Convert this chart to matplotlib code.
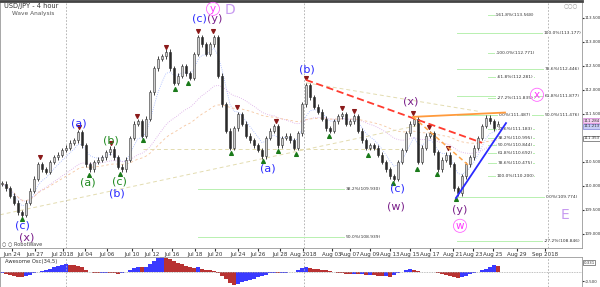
import numpy as np
import pandas as pd
import matplotlib
matplotlib.use("Agg")
from matplotlib import pyplot as plt

# USD/JPY 4h closes, one value per ~4px column
closes = [
    110.05, 109.95, 109.8, 109.65, 109.45, 109.4, 109.65, 109.9, 110.15, 110.45,
    110.35, 110.3, 110.5, 110.6, 110.65, 110.75, 110.8, 110.9, 110.95, 111.12,
    110.85, 110.45, 110.35, 110.5, 110.55, 110.6, 110.7, 110.78, 110.6, 110.4,
    110.35, 110.55, 111.0, 111.3, 111.35, 111.05, 111.4, 111.95, 112.45, 112.65,
    112.7, 112.8, 112.45, 112.15, 112.3, 112.5, 112.35, 112.25, 112.75, 113.1,
    112.95, 112.75, 112.95, 113.1, 112.3, 111.7, 111.15, 110.8, 111.2, 111.5,
    111.3, 111.05, 110.95, 110.85, 110.75, 110.62, 111.0, 111.15, 111.25, 110.85,
    111.0, 111.05, 110.95, 110.8, 111.1, 111.7, 112.1, 111.85, 111.65, 111.55,
    111.4, 111.2, 111.15, 111.35, 111.45, 111.5, 111.3, 111.35, 111.45, 111.15,
    110.95, 110.8, 110.85, 110.8, 110.65, 110.5, 110.35, 110.2, 110.15, 110.5,
    110.75, 111.1, 111.3, 111.4, 110.5, 110.8, 111.05, 111.1, 110.7, 110.35,
    110.55, 110.65, 110.45, 109.95, 109.85, 110.2, 110.45, 110.6, 110.8, 111.0,
    111.25, 111.42, 111.35, 111.2, 111.3,
]

# Awesome Oscillator (34,5)
ao = [
    -0.03, -0.07, -0.08, -0.12, -0.15, -0.17, -0.13, -0.08, -0.03, 0.02,
    0.05, 0.08, 0.13, 0.18, 0.23, 0.27, 0.28, 0.27, 0.25, 0.23,
    0.17, 0.08, 0.02, -0.02, -0.03, -0.02, -0.01, -0.02, -0.03, -0.05,
    -0.03, 0.02, 0.08, 0.15, 0.18, 0.17, 0.20, 0.28, 0.40, 0.48,
    0.52, 0.51, 0.47, 0.40, 0.33, 0.28, 0.23, 0.18, 0.15, 0.17,
    0.13, 0.10, 0.07, 0.05, -0.03, -0.12, -0.23, -0.37, -0.42, -0.40,
    -0.33, -0.30, -0.27, -0.22, -0.17, -0.13, -0.08, -0.03, -0.02, -0.03,
    -0.02, -0.01, 0.02, 0.03, 0.08, 0.15, 0.17, 0.16, 0.13, 0.12,
    0.10, 0.08, 0.05, 0.02, -0.02, -0.03, -0.04, -0.05, -0.05, -0.07,
    -0.07, -0.08, -0.08, -0.10, -0.12, -0.13, -0.13, -0.15, -0.10, -0.03,
    0.03, 0.08, 0.12, 0.10, 0.05, 0.02, 0.02, 0.03, 0.02, -0.02,
    -0.05, -0.08, -0.12, -0.17, -0.18, -0.15, -0.12, -0.07, -0.03, 0.02,
    0.07, 0.13, 0.20, 0.25, 0.23,
]

date_labels = ["Jun 24", "Jun 27", "Jul 2018", "Jul 04", "Jul 06", "Jul 10", "Jul 12",
               "Jul 16", "Jul 18", "Jul 20", "Jul 24", "Jul 26", "Jul 28", "Aug 2018",
               "Aug 03", "Aug 07", "Aug 09", "Aug 13", "Aug 15", "Aug 17", "Aug 21",
               "Aug 23", "Aug 25", "Aug 29", "Sep 2018"]
date_pos = [12, 35, 63, 85, 107, 132, 152, 172, 195, 215, 238, 258, 280, 303,
            332, 350, 370, 390, 410, 430, 453, 473, 493, 517, 545]
month_sep = [66, 304, 548]

# swing markers
top_x = [40, 79, 111, 137, 166, 198, 213, 237, 276, 306, 342, 354, 413, 429, 448]
top_p = [110.56, 111.19, 110.85, 111.42, 112.85, 113.19, 113.18, 111.6, 111.31,
         112.21, 111.58, 111.52, 111.48, 111.19, 110.75]
bot_x = [22, 89, 120, 143, 175, 188, 231, 263, 278, 296, 329, 368, 393, 417, 437, 456]
bot_p = [109.35, 110.27, 110.29, 111.0, 112.06, 112.19, 110.73, 110.56, 110.77,
         110.71, 111.08, 110.69, 110.10, 110.4, 110.29, 109.774]

# wave labels: text, x, price, colour
BLUE, PURP, GRN = "#2b2bff", "#7a1f8a", "#1f8a1f"
waves = [
    ("(c)", 22, 109.17, BLUE), ("(x)", 27, 108.92, PURP),
    ("(a)", 79, 111.31, BLUE), ("(a)", 88, 110.08, GRN),
    ("(b)", 111, 110.94, GRN), ("(c)", 119, 110.10, GRN),
    ("(b)", 117, 109.85, BLUE), ("(c)", 199, 113.48, BLUE),
    ("(y)", 215, 113.48, PURP), ("(b)", 307, 112.42, BLUE),
    ("(a)", 268, 110.37, BLUE), ("(x)", 411, 111.77, PURP),
    ("(c)", 397, 109.94, BLUE), ("(w)", 396, 109.58, PURP),
    ("(y)", 460, 109.50, PURP),
]
circled = [("y", 213, 113.69), ("x", 537, 111.90), ("w", 460, 109.17)]
big_letters = [("D", 230, 113.67), ("E", 565, 109.40)]

# fibonacci tools
fib_a_pct = ["0.0%", "23.6%", "38.2%", "50.0%", "61.8%", "78.6%", "100.0%",
             "-27.2%", "-61.8%", "-100.0%", "-161.8%"]
fib_a_val = [111.487, 111.183, 110.995, 110.844, 110.692, 110.475, 110.200,
             111.835, 112.281, 112.771, 113.568]
fib_c_pct = ["100.0%", "78.6%", "61.8%", "50.0%", "0.0%", "-27.2%"]
fib_c_val = [113.177, 112.446, 111.877, 111.476, 109.774, 108.846]
fib_d_pct = ["38.2%", "50.0%"]
fib_d_val = [109.930, 108.939]

# trend lines (x0, p0, x1, p1)
red_line = [306, 112.21, 482, 110.90]
orange_line = [413, 111.44, 505, 111.53]
orange_dash = [413, 111.44, 468, 110.44]
blue_line = [456, 109.75, 506, 111.31]
tan_lines = [[0, 109.40, 420, 111.27], [143, 110.77, 400, 110.77], [306, 112.15, 480, 111.55]]

ytick_vals = [109.0, 109.5, 110.0, 110.5, 111.5, 112.0, 112.5, 113.0, 113.5]

# ---- figure ----
fig = plt.figure(figsize=(6, 2.87), dpi=100)
ax = fig.add_axes([0.0, 1 - 248 / 287, 582 / 600, 247 / 287])
osc = fig.add_axes([0.0, 0.0, 582 / 600, 30 / 287])

x = np.arange(len(closes)) * 4 + 2
c = np.array(closes)
o = np.r_[c[0], c[:-1]]
hi = np.maximum(o, c) + 0.05
lo = np.minimum(o, c) - 0.05

# moving averages
s = pd.Series(c)
ax.plot(x, s.ewm(span=6).mean(), color="#9fb4ff", lw=0.6, ls=":")
ax.plot(x, s.ewm(span=30).mean(), color="#d9a6e6", lw=0.6, ls=":")
ax.plot(x, s.ewm(span=60).mean(), color="#f5c6a0", lw=0.6, ls=(0, (3, 3)))

for ln in tan_lines:
    ax.plot([ln[0], ln[2]], [ln[1], ln[3]], color="#e3dcb0", lw=0.7, ls=(0, (4, 3)))

# vertical month separators
for m in month_sep:
    ax.axvline(m, color="#aaaaaa", lw=0.6, ls=(0, (2, 2)))
    osc.axvline(m, color="#aaaaaa", lw=0.6, ls=(0, (2, 2)))

# candles
ax.vlines(x, lo, hi, color="#222222", lw=0.6, zorder=3)
up = c >= o
body = np.where(np.abs(c - o) < 0.015, 0.015, c - o)
ax.bar(x[up], body[up], bottom=o[up], width=2.4, color="#d0d0d0",
       edgecolor="#333333", lw=0.4, zorder=4)
ax.bar(x[~up], body[~up], bottom=o[~up], width=2.4, color="#2a2a2a",
       edgecolor="#2a2a2a", lw=0.4, zorder=4)

ax.scatter(top_x, np.array(top_p) + 0.04, marker="v", s=7, color="#8b1a1a", zorder=5)
ax.scatter(bot_x, np.array(bot_p) - 0.04, marker="^", s=7, color="#1a7a1a", zorder=5)

# fib lines
fib_box = dict(boxstyle="square,pad=0.1", fc="white", ec="none")
for p, v in zip(fib_a_pct, fib_a_val):
    ax.plot([488, 534], [v, v], color="#b8f0b0", lw=0.7, zorder=2)
    ax.text(515, v, f"{p}({v:.3f})", fontsize=3.2, ha="center", va="center",
            color="#333333", zorder=6, bbox=fib_box)
for p, v in zip(fib_c_pct, fib_c_val):
    ax.plot([457, 578], [v, v], color="#b8f0b0", lw=0.7, zorder=2)
    ax.text(562, v, f"{p}({v:.3f})", fontsize=3.2, ha="center", va="center",
            color="#333333", zorder=6, bbox=fib_box)
for p, v in zip(fib_d_pct, fib_d_val):
    ax.plot([198, 380], [v, v], color="#b8f0b0", lw=0.7, zorder=2)
    ax.text(363, v, f"{p}({v:.3f})", fontsize=3.2, ha="center", va="center",
            color="#333333", zorder=6, bbox=fib_box)

# trend lines
ax.plot(red_line[0::2], red_line[1::2], color="#ff3b2f", lw=1.3, ls=(0, (4, 2)), zorder=6)
ax.plot(orange_line[0::2], orange_line[1::2], color="#ff9a3c", lw=1.3, zorder=6)
ax.plot(orange_dash[0::2], orange_dash[1::2], color="#ffa64d", lw=1.1, ls=(0, (3, 2)), zorder=6)
ax.plot(blue_line[0::2], blue_line[1::2], color="#2a2aff", lw=1.3, zorder=6)

# wave labels
for t, wx, wp, col in waves:
    ax.text(wx, wp, t, fontsize=8, color=col, ha="center", va="center", zorder=7)
for t, wx, wp in circled:
    ax.text(wx, wp, t, fontsize=7.5, color="#ff33ff", ha="center", va="center", zorder=7,
            bbox=dict(boxstyle="circle,pad=0.15", fc="none", ec="#ff66ff", lw=0.6))
for t, wx, wp in big_letters:
    ax.text(wx, wp, t, fontsize=10, color="#c79af0", ha="center", va="center", zorder=7)

ax.set_xlim(0, 582)
ax.set_ylim(108.708, 113.854)
ax.yaxis.tick_right()
ax.set_yticks(ytick_vals)
ax.set_yticklabels([f"{v:.3f}" for v in ytick_vals])
ax.tick_params(axis="y", labelsize=2.9, length=1.5, pad=0.4, colors="#333333")
ax.set_xticks(date_pos)
ax.set_xticklabels(date_labels)
ax.tick_params(axis="x", labelsize=4.0, length=2, pad=1, colors="#333333")
for sp in ax.spines.values():
    sp.set_color("#999999")
    sp.set_linewidth(0.6)
ax.spines["top"].set_color("#444444")
ax.spines["top"].set_linewidth(2)

# current price tags on the right axis
def price_tag(axis, frac, txt, fc, ec):
    axis.text(1.003, frac, txt, transform=axis.transAxes, fontsize=2.8, color="#333333",
              va="center", ha="left",
              bbox=dict(boxstyle="square,pad=0.08", fc=fc, ec=ec, lw=0.4))

span = 113.854 - 108.708
price_tag(ax, (111.36 - 108.708) / span, "111.284", "#f3d0f0", "#cc66cc")
price_tag(ax, (111.24 - 108.708) / span, "111.213", "#c8ccf5", "#6666cc")
price_tag(ax, (110.99 - 108.708) / span, "111.353", "white", "#333333")

fig.text(0.007, 0.988, "USD/JPY - 4 hour", fontsize=4.8, color="#333333", va="top")
fig.text(0.02, 0.96, "Wave Analysis", fontsize=4.2, color="#555555", va="top")
fig.text(0.004, 1 - 244 / 287, "\u25cb \u25cb RobotWave", fontsize=3.6, color="#444444", va="center")
fig.text(0.94, 0.99, "\u25cb\u25cb\u25cb", fontsize=4, color="#999999", va="top")

# oscillator
a = np.array(ao)
prev = np.r_[a[0], a[:-1]]
cols = np.where(a >= prev, "#3a3aff", "#b83232")
osc.bar(x, a, width=3.4, color=cols, lw=0)
osc.axhline(0, color="#aaaaaa", lw=0.6, ls=(0, (1, 1)))
osc.set_xlim(0, 582)
osc.set_ylim(-0.5, 0.53)
osc.set_xticks([])
osc.yaxis.tick_right()
osc.set_yticks([-0.3])
osc.set_yticklabels(["-0.500"])
osc.tick_params(axis="y", labelsize=2.9, length=1.5, pad=0.4, colors="#333333")
for sp in osc.spines.values():
    sp.set_color("#999999")
    sp.set_linewidth(0.6)
price_tag(osc, (0.331 + 0.5) / 1.03, "0.331", "white", "#333333")
osc.text(0.008, 0.86, "Awesome Osc(34,5)", transform=osc.transAxes, fontsize=3.8,
         color="#333333", va="center")

fig.savefig("out.png", dpi=100)
